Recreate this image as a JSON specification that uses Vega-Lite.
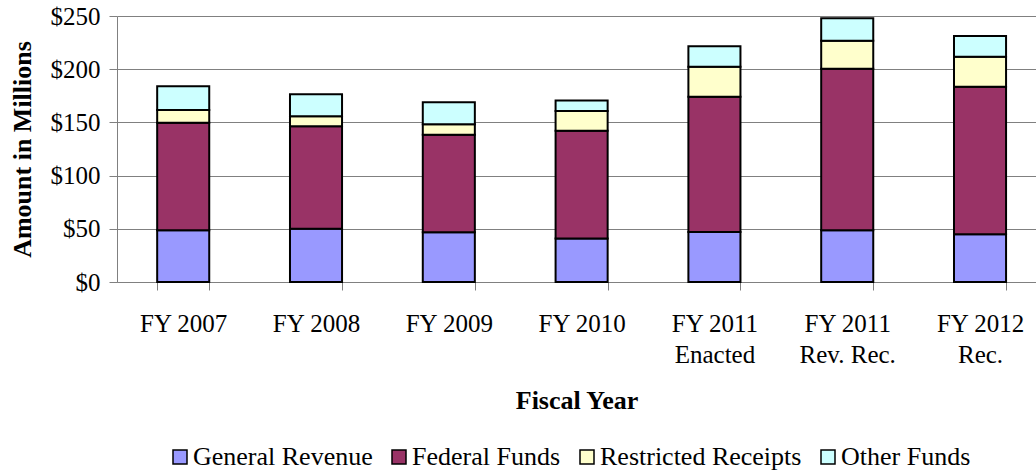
{
  "$schema": "https://vega.github.io/schema/vega-lite/v6.json",
  "autosize": {"type": "none"},
  "padding": {"left": 117, "top": 16, "right": 0, "bottom": 188},
  "width": 919,
  "height": 266,
  "background": "white",
  "config": {
    "view": {"stroke": null},
    "font": "Liberation Serif"
  },
  "data": {
    "values": [
      {"year": "FY 2007", "source": "General Revenue", "order": 1, "amount": 48.6},
      {"year": "FY 2007", "source": "Federal Funds", "order": 2, "amount": 101.1},
      {"year": "FY 2007", "source": "Restricted Receipts", "order": 3, "amount": 12.0},
      {"year": "FY 2007", "source": "Other Funds", "order": 4, "amount": 22.2},
      {"year": "FY 2008", "source": "General Revenue", "order": 1, "amount": 50.1},
      {"year": "FY 2008", "source": "Federal Funds", "order": 2, "amount": 96.2},
      {"year": "FY 2008", "source": "Restricted Receipts", "order": 3, "amount": 9.4},
      {"year": "FY 2008", "source": "Other Funds", "order": 4, "amount": 20.7},
      {"year": "FY 2009", "source": "General Revenue", "order": 1, "amount": 46.7},
      {"year": "FY 2009", "source": "Federal Funds", "order": 2, "amount": 91.8},
      {"year": "FY 2009", "source": "Restricted Receipts", "order": 3, "amount": 9.7},
      {"year": "FY 2009", "source": "Other Funds", "order": 4, "amount": 20.7},
      {"year": "FY 2010", "source": "General Revenue", "order": 1, "amount": 41.0},
      {"year": "FY 2010", "source": "Federal Funds", "order": 2, "amount": 101.2},
      {"year": "FY 2010", "source": "Restricted Receipts", "order": 3, "amount": 18.5},
      {"year": "FY 2010", "source": "Other Funds", "order": 4, "amount": 10.0},
      {"year": "FY 2011\nEnacted", "source": "General Revenue", "order": 1, "amount": 47.0},
      {"year": "FY 2011\nEnacted", "source": "Federal Funds", "order": 2, "amount": 127.2},
      {"year": "FY 2011\nEnacted", "source": "Restricted Receipts", "order": 3, "amount": 28.2},
      {"year": "FY 2011\nEnacted", "source": "Other Funds", "order": 4, "amount": 19.1},
      {"year": "FY 2011\nRev. Rec.", "source": "General Revenue", "order": 1, "amount": 48.6},
      {"year": "FY 2011\nRev. Rec.", "source": "Federal Funds", "order": 2, "amount": 151.9},
      {"year": "FY 2011\nRev. Rec.", "source": "Restricted Receipts", "order": 3, "amount": 26.3},
      {"year": "FY 2011\nRev. Rec.", "source": "Other Funds", "order": 4, "amount": 21.0},
      {"year": "FY 2012\nRec.", "source": "General Revenue", "order": 1, "amount": 44.8},
      {"year": "FY 2012\nRec.", "source": "Federal Funds", "order": 2, "amount": 138.8},
      {"year": "FY 2012\nRec.", "source": "Restricted Receipts", "order": 3, "amount": 28.2},
      {"year": "FY 2012\nRec.", "source": "Other Funds", "order": 4, "amount": 19.4}
    ]
  },
  "mark": {"type": "bar", "stroke": "black", "strokeWidth": 2, "opacity": 1},
  "encoding": {
    "x": {
      "field": "year",
      "type": "nominal",
      "sort": null,
      "scale": {"paddingInner": 0.608, "paddingOuter": 0.264, "align": 0.573},
      "axis": {
        "title": "Fiscal Year",
        "titleFont": "Liberation Serif",
        "titleFontSize": 26,
        "titleFontWeight": "bold",
        "titleColor": "black",
        "titlePadding": 20,
        "labelAngle": 0,
        "labelFont": "Liberation Serif",
        "labelFontSize": 25,
        "labelColor": "black",
        "labelLineHeight": 31,
        "labelPadding": 21,
        "labelExpr": "split(datum.label, '\\n')",
        "tickBand": "extent",
        "tickSize": 8,
        "tickColor": "#808080",
        "domainColor": "#808080",
        "domainWidth": 1
      }
    },
    "y": {
      "field": "amount",
      "type": "quantitative",
      "stack": "zero",
      "scale": {"domain": [0, 250], "nice": false},
      "axis": {
        "title": "Amount in Millions",
        "titleFont": "Liberation Serif",
        "titleFontSize": 26,
        "titleFontWeight": "bold",
        "titleColor": "black",
        "titlePadding": 15,
        "values": [0, 50, 100, 150, 200, 250],
        "format": "$,.0f",
        "labelFont": "Liberation Serif",
        "labelFontSize": 25,
        "labelColor": "black",
        "labelPadding": 9,
        "tickSize": 8,
        "tickColor": "#808080",
        "domainColor": "#808080",
        "grid": true,
        "gridColor": "#808080",
        "gridWidth": 1
      }
    },
    "color": {
      "field": "source",
      "type": "nominal",
      "sort": ["General Revenue", "Federal Funds", "Restricted Receipts", "Other Funds"],
      "scale": {
        "domain": ["General Revenue", "Federal Funds", "Restricted Receipts", "Other Funds"],
        "range": ["#9999FF", "#993366", "#FFFFCC", "#CCFFFF"]
      },
      "legend": {
        "title": null,
        "orient": "none",
        "direction": "horizontal",
        "legendX": 50,
        "legendY": 428,
        "padding": 0,
        "symbolType": "square",
        "symbolSize": 196,
        "symbolStrokeColor": "black",
        "symbolStrokeWidth": 1.5,
        "symbolOpacity": 1,
        "labelFont": "Liberation Serif",
        "labelFontSize": 26,
        "labelColor": "black",
        "labelOffset": 0,
        "labelLimit": 400,
        "columnPadding": 13
      }
    },
    "order": {"field": "order", "type": "quantitative"}
  }
}
